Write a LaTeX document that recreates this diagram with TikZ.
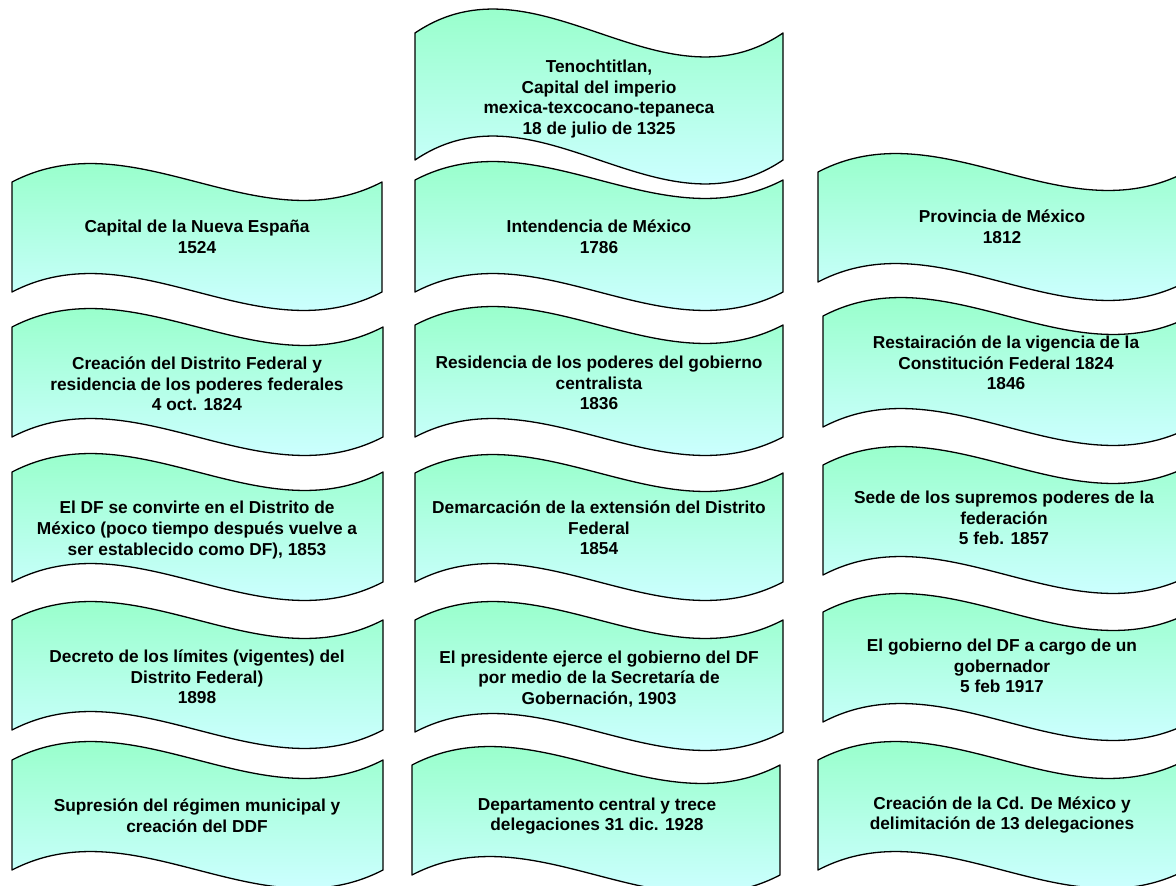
\documentclass[tikz,border=0pt]{standalone}
\usepackage{fontspec}
\setmainfont{Liberation Sans}
\definecolor{wtop}{RGB}{153,255,204}
\definecolor{wbot}{RGB}{204,255,255}
\tikzset{
  waveline/.style={draw=black, line width=1.3pt, line join=round},
  wavefill/.style={top color=wtop, bottom color=wbot, draw=none},
  lbl/.style={align=center, font=\fontsize{17.3}{20.7}\selectfont\bfseries, text=black, inner sep=0pt}
}
% #1 x0, #2 x1, #3 top end level, #4 bottom end level, #5 control offset
\newcommand\wavepath[5]{(#1,#3) .. controls ({#1+(#2-#1)/3},{#3-#5}) and ({#1+2*(#2-#1)/3},{#3+#5}) .. (#2,#3)
    -- (#2,#4) .. controls ({#1+2*(#2-#1)/3},{#4+#5}) and ({#1+(#2-#1)/3},{#4-#5}) .. (#1,#4) -- cycle}
\newcommand\wavebox[5]{%
  \begin{scope}
    \clip \wavepath{#1}{#2}{#3}{#4}{#5};
    \path[wavefill] (#1,{#3-0.29*#5}) rectangle (#2,{#4+0.29*#5});
  \end{scope}
  \path[waveline] \wavepath{#1}{#2}{#3}{#4}{#5};}
\begin{document}
\begin{tikzpicture}[x=1pt,y=-1pt]
\useasboundingbox[fill=white] (0,0) rectangle (1176,886);
\clip (0,0) rectangle (1176,886);
% top
\wavebox{415}{783}{33}{160}{83}
\node[lbl] (t0) at (599,99) {Tenochtitlan,\\Capital del imperio\\mexica-texcocano-tepaneca\\18 de julio de 1325};
% left column
\wavebox{12}{382}{182}{292}{64}
\wavebox{12}{383}{327}{437}{64}
\wavebox{12}{383}{472}{582}{64}
\wavebox{12}{383}{620}{730}{64}
\wavebox{12}{383}{760}{870}{64}
\node[lbl] (l1) at (197,237) {Capital de la Nueva España\\1524};
\node[lbl] (l2) at (197,384) {Creación del Distrito Federal y\\residencia de los poderes federales\\4 oct. 1824};
\node[lbl] (l3) at (197,530) {El DF se convirte en el Distrito de\\México (poco tiempo después vuelve a\\ser establecido como DF), 1853};
\node[lbl] (l4) at (197,677) {Decreto de los límites (vigentes) del\\Distrito Federal)\\1898};
\node[lbl] (l5) at (197,816) {Supresión del régimen municipal y\\creación del DDF};
% middle column
\wavebox{415}{783}{180}{292}{64}
\wavebox{415}{783}{325}{437}{64}
\wavebox{415}{783}{473}{582}{64}
\wavebox{415}{783}{620}{732}{64}
\wavebox{412}{780}{765}{875}{64}
\node[lbl] (m1) at (599,237) {Intendencia de México\\1786};
\node[lbl] (m2) at (599,383) {Residencia de los poderes del gobierno\\centralista\\1836};
\node[lbl] (m3) at (599,528) {Demarcación de la extensión del Distrito\\Federal\\1854};
\node[lbl] (m4) at (599,679) {El presidente ejerce el gobierno del DF\\por medio de la Secretaría de\\Gobernación, 1903};
\node[lbl] (m5) at (597,816) {Departamento central y trece\\delegaciones 31 dic. 1928};
% right column
\wavebox{818}{1186}{172}{282}{64}
\wavebox{823}{1191}{316}{427}{64}
\wavebox{823}{1191}{465}{575}{64}
\wavebox{823}{1191}{612}{722}{64}
\wavebox{818}{1186}{760}{870}{64}
\node[lbl] (r1) at (1002,227) {Provincia de México\\1812};
\node[lbl] (r2) at (1006,363) {Restairación de la vigencia de la\\Constitución Federal 1824\\1846};
\node[lbl] (r3) at (1004,518) {Sede de los supremos poderes de la\\federación\\5 feb. 1857};
\node[lbl] (r4) at (1002,666) {El gobierno del DF a cargo de un\\gobernador\\5 feb 1917};
\node[lbl] (r5) at (1002,815) {Creación de la Cd. De México y\\delimitación de 13 delegaciones};
\end{tikzpicture}
\end{document}
